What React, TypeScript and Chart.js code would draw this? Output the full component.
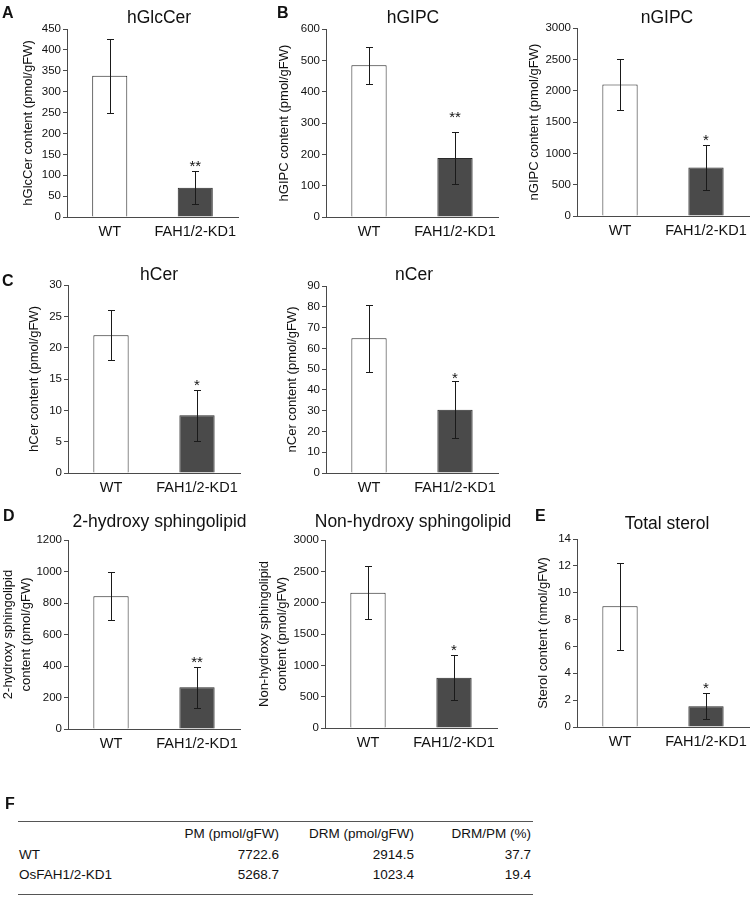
import React, { useEffect, useRef } from "react";
import { Chart, registerables } from "chart.js";

Chart.register(...registerables);

const FONT = "'Liberation Sans', Arial, Helvetica, sans-serif";

// ---------- data ----------
const categories = ["WT", "FAH1/2-KD1"];

const hGlcCerMean = [338, 70];
const hGlcCerErr = [89, 39];
const hGlcCerSig = ["", "**"];

const hGIPCMean = [484, 188];
const hGIPCErr = [60, 83];
const hGIPCSig = ["", "**"];

const nGIPCMean = [2100, 775];
const nGIPCErr = [405, 357];
const nGIPCSig = ["", "*"];

const hCerMean = [22.0, 9.2];
const hCerErr = [4.0, 4.1];
const hCerSig = ["", "*"];

const nCerMean = [64.8, 30.5];
const nCerErr = [16, 13.8];
const nCerSig = ["", "*"];

const hydroxyMean = [843, 265];
const hydroxyErr = [151, 129];
const hydroxySig = ["", "**"];

const nonHydroxyMean = [2160, 800];
const nonHydroxyErr = [424, 360];
const nonHydroxySig = ["", "*"];

const sterolMean = [9.0, 1.55];
const sterolErr = [3.24, 0.97];
const sterolSig = ["", "*"];

// y-axis ranges (max, step)
const hGlcCerAxis = [450, 50];
const hGIPCAxis = [600, 100];
const nGIPCAxis = [3000, 500];
const hCerAxis = [30, 5];
const nCerAxis = [90, 10];
const hydroxyAxis = [1200, 200];
const nonHydroxyAxis = [3000, 500];
const sterolAxis = [14, 2];

// table F
const tableHeaders = ["PM (pmol/gFW)", "DRM (pmol/gFW)", "DRM/PM (%)"];
const tableRowLabels = ["WT", "OsFAH1/2-KD1"];
const pmValues = [7722.6, 5268.7];
const drmValues = [2914.5, 1023.4];
const ratioValues = [37.7, 19.4];

// ---------- layout / style ----------
type PanelSpec = {
  title: string;
  titleX: number;
  titleY: number;
  yTitle: string | string[];
  yTitleX: number;
  means: number[];
  errs: number[];
  sig: string[];
  starGap: number;
  axis: number[];
  canvas: number[]; // left, top, width, height (page px)
  area: number[]; // x0, x1, y0, y1 (page px)
};

const panels: PanelSpec[] = [
  { title: "hGlcCer", titleX: 159, titleY: 23, yTitle: "hGlcCer content (pmol/gFW)", yTitleX: 28,
    means: hGlcCerMean, errs: hGlcCerErr, sig: hGlcCerSig, starGap: 9, axis: hGlcCerAxis,
    canvas: [-6, 0, 258, 250], area: [67, 238, 29, 217] },
  { title: "hGIPC", titleX: 413, titleY: 23, yTitle: "hGIPC content (pmol/gFW)", yTitleX: 284,
    means: hGIPCMean, errs: hGIPCErr, sig: hGIPCSig, starGap: 19, axis: hGIPCAxis,
    canvas: [250, 0, 275, 250], area: [326, 498, 29, 217] },
  { title: "nGIPC", titleX: 667, titleY: 23, yTitle: "nGIPC content (pmol/gFW)", yTitleX: 534,
    means: nGIPCMean, errs: nGIPCErr, sig: nGIPCSig, starGap: 9, axis: nGIPCAxis,
    canvas: [500, 0, 252, 250], area: [577, 749, 28, 216] },
  { title: "hCer", titleX: 159, titleY: 280, yTitle: "hCer content (pmol/gFW)", yTitleX: 34,
    means: hCerMean, errs: hCerErr, sig: hCerSig, starGap: 9.5, axis: hCerAxis,
    canvas: [-6, 255, 258, 250], area: [68, 240, 285, 473] },
  { title: "nCer", titleX: 414, titleY: 280, yTitle: "nCer content (pmol/gFW)", yTitleX: 292,
    means: nCerMean, errs: nCerErr, sig: nCerSig, starGap: 7.5, axis: nCerAxis,
    canvas: [250, 255, 275, 250], area: [326, 498, 286, 473] },
  { title: "2-hydroxy sphingolipid", titleX: 159.5, titleY: 527,
    yTitle: ["2-hydroxy sphingolipid", "content (pmol/gFW)"], yTitleX: 8,
    means: hydroxyMean, errs: hydroxyErr, sig: hydroxySig, starGap: 9, axis: hydroxyAxis,
    canvas: [-6, 505, 258, 260], area: [68, 240, 540, 729] },
  { title: "Non-hydroxy sphingolipid", titleX: 413, titleY: 527,
    yTitle: ["Non-hydroxy sphingolipid", "content (pmol/gFW)"], yTitleX: 264,
    means: nonHydroxyMean, errs: nonHydroxyErr, sig: nonHydroxySig, starGap: 9, axis: nonHydroxyAxis,
    canvas: [250, 505, 275, 260], area: [325, 497, 540, 728] },
  { title: "Total sterol", titleX: 667, titleY: 529, yTitle: "Sterol content (nmol/gFW)", yTitleX: 543,
    means: sterolMean, errs: sterolErr, sig: sterolSig, starGap: 9, axis: sterolAxis,
    canvas: [500, 505, 252, 260], area: [577, 749, 539, 727] },
];

const letters = [
  { t: "A", x: 2, y: 5 },
  { t: "B", x: 277, y: 5 },
  { t: "C", x: 2, y: 273 },
  { t: "D", x: 3, y: 508 },
  { t: "E", x: 535, y: 508 },
  { t: "F", x: 5, y: 796 },
];

const TEXT = "#111";
const AXIS = "#4a4a4a";

const panelPlugin = {
  id: "panelDecor",
  afterDatasetsDraw(chart: any, _args: any, opts: any) {
    const ctx = chart.ctx;
    const meta = chart.getDatasetMeta(0);
    const ds = chart.data.datasets[0];
    const y = chart.scales.y;
    ctx.save();
    ctx.strokeStyle = "#1a1a1a";
    ctx.lineWidth = 1;
    meta.data.forEach((bar: any, i: number) => {
      const v = ds.data[i];
      const e = ds.errors[i];
      const yTop = Math.round(y.getPixelForValue(v + e)) + 0.5;
      const yBot = Math.round(y.getPixelForValue(v - e)) + 0.5;
      const x = Math.round(bar.x) + 0.5;
      ctx.beginPath();
      ctx.moveTo(x, yTop);
      ctx.lineTo(x, yBot);
      ctx.moveTo(x - 3.5, yTop);
      ctx.lineTo(x + 3.5, yTop);
      ctx.moveTo(x - 3.5, yBot);
      ctx.lineTo(x + 3.5, yBot);
      ctx.stroke();
      const s = ds.sig[i];
      if (s) {
        ctx.fillStyle = TEXT;
        ctx.font = `15px ${FONT}`;
        ctx.textAlign = "center";
        ctx.textBaseline = "alphabetic";
        ctx.fillText(s, bar.x, yTop - opts.starGap + 8.5);
      }
    });
    ctx.restore();
  },
  afterDraw(chart: any, _args: any, opts: any) {
    const ctx = chart.ctx;
    ctx.save();
    ctx.fillStyle = TEXT;
    ctx.font = `17.5px ${FONT}`;
    ctx.textAlign = "center";
    ctx.textBaseline = "alphabetic";
    ctx.fillText(opts.text, opts.x, opts.y);
    ctx.restore();
  },
};

function Panel({ spec }: { spec: PanelSpec }) {
  const ref = useRef<HTMLCanvasElement | null>(null);
  useEffect(() => {
    const [cl, ct, cw, ch] = spec.canvas;
    const [x0, x1, y0, y1] = spec.area;
    const multi = Array.isArray(spec.yTitle);
    const lhFactor = multi ? 1.45 : 1.2;
    const lh = 13 * lhFactor;
    const titlePad = spec.yTitleX - cl - lh / 2;
    const chart = new Chart(ref.current as HTMLCanvasElement, {
      type: "bar",
      data: {
        labels: categories,
        datasets: [
          {
            data: spec.means,
            errors: spec.errs,
            sig: spec.sig,
            backgroundColor: ["#ffffff", "#4a4a4a"],
            borderColor: ["#222222", "#2a2a2a"],
            borderWidth: 1,
            barPercentage: 0.41,
            categoryPercentage: 1,
          } as any,
        ],
      },
      options: {
        animation: false,
        responsive: false,
        maintainAspectRatio: false,
        devicePixelRatio: 1,
        layout: { padding: { left: 0, right: cl + cw - x1, top: y0 - ct, bottom: 0 } },
        plugins: {
          legend: { display: false },
          tooltip: { enabled: false },
          title: { display: false },
          panelDecor: { text: spec.title, x: spec.titleX - cl, y: spec.titleY - ct, starGap: spec.starGap },
        } as any,
        scales: {
          x: {
            type: "category",
            offset: true,
            grid: { display: false, drawTicks: false },
            border: { display: true, color: AXIS, width: 1 },
            ticks: { color: TEXT, font: { size: 14.5, family: FONT }, padding: 6, maxRotation: 0, autoSkip: false },
            afterFit: (s: any) => {
              s.height = ct + ch - y1;
              s.paddingLeft = 0;
              s.paddingRight = 0;
            },
          },
          y: {
            min: 0,
            max: spec.axis[0],
            ticks: {
              stepSize: spec.axis[1],
              color: TEXT,
              font: { size: 11.5, family: FONT },
              padding: 2,
              callback: (v: any) => String(v),
            },
            grid: { drawOnChartArea: false, drawTicks: true, tickLength: 4, color: AXIS },
            border: { display: true, color: AXIS, width: 1 },
            title: {
              display: true,
              text: spec.yTitle,
              color: TEXT,
              font: { size: 13, family: FONT, lineHeight: lhFactor },
              padding: { top: titlePad, bottom: 0 },
            },
            afterFit: (s: any) => {
              s.width = x0 - cl;
              s.paddingTop = 0;
              s.paddingBottom = 0;
            },
          },
        } as any,
      },
      plugins: [panelPlugin],
    });
    return () => chart.destroy();
  }, [spec]);
  const [cl, ct, cw, ch] = spec.canvas;
  return (
    <canvas
      ref={ref}
      width={cw}
      height={ch}
      style={{ position: "absolute", left: cl, top: ct, width: cw, height: ch }}
    />
  );
}

const fmt = (v: number) => v.toFixed(1);

export default function App() {
  const colRights = [279, 414, 531];
  const rowTops = [845, 865];
  const headerTop = 824;
  const cellStyle = (right: number, top: number): React.CSSProperties => ({
    position: "absolute",
    left: right - 160,
    width: 160,
    top,
    height: 20,
    lineHeight: "20px",
    textAlign: "right",
    whiteSpace: "nowrap",
  });
  const valueCols = [pmValues, drmValues, ratioValues];
  return (
    <div
      style={{
        position: "absolute",
        left: 0,
        top: 0,
        width: 752,
        height: 898,
        overflow: "hidden",
        background: "#ffffff",
        fontFamily: FONT,
        color: TEXT,
      }}
    >
      {panels.map((p, i) => (
        <Panel key={i} spec={p} />
      ))}
      {letters.map((l) => (
        <div
          key={l.t}
          style={{
            position: "absolute",
            left: l.x,
            top: l.y,
            fontWeight: "bold",
            fontSize: 16,
            lineHeight: "16px",
            color: "#111",
          }}
        >
          {l.t}
        </div>
      ))}
      <div style={{ position: "absolute", left: 18, top: 821, width: 515, height: 0, borderTop: "1.5px solid #555" }} />
      <div style={{ position: "absolute", left: 18, top: 894, width: 515, height: 0, borderTop: "1.5px solid #555" }} />
      <div style={{ fontSize: 13.5 }}>
        {tableHeaders.map((h, j) => (
          <div key={h} style={cellStyle(colRights[j], headerTop)}>
            {h}
          </div>
        ))}
        {tableRowLabels.map((r, i) => (
          <React.Fragment key={r}>
            <div style={{ position: "absolute", left: 19, top: rowTops[i], height: 20, lineHeight: "20px", whiteSpace: "nowrap" }}>
              {r}
            </div>
            {valueCols.map((col, j) => (
              <div key={j} style={cellStyle(colRights[j], rowTops[i])}>
                {fmt(col[i])}
              </div>
            ))}
          </React.Fragment>
        ))}
      </div>
    </div>
  );
}
